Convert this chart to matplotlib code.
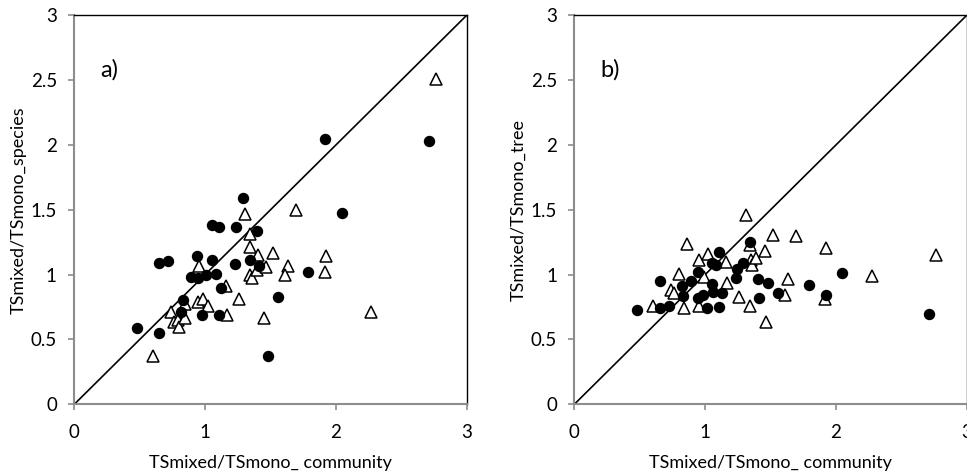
import matplotlib
matplotlib.use("Agg")
import matplotlib.pyplot as plt

plt.rcParams['font.family'] = ['Lato', 'DejaVu Sans']

# panel a) community ratio vs species ratio
a_circle_x = [0.48, 0.645, 0.65, 0.72, 0.815, 0.83, 0.89, 0.94, 0.945, 0.98, 1.01, 1.05, 1.05, 1.08,
              1.105, 1.11, 1.12, 1.23, 1.24, 1.29, 1.34, 1.40, 1.41, 1.48, 1.555, 1.79, 1.92, 2.044, 2.71]
a_circle_y = [0.59, 0.55, 1.09, 1.105, 0.71, 0.805, 0.985, 1.14, 0.975, 0.685, 0.997, 1.11, 1.38, 1.005,
              0.685, 1.37, 0.895, 1.08, 1.37, 1.59, 1.113, 1.338, 1.07, 0.375, 0.825, 1.017, 2.045, 1.473, 2.03]
a_tri_x = [0.60, 0.737, 0.765, 0.795, 0.80, 0.849, 0.846, 0.948, 0.986, 1.02, 0.951, 1.157, 1.259, 1.165,
           1.307, 1.343, 1.343, 1.343, 1.356, 1.394, 1.407, 1.463, 1.521, 1.45, 1.697, 1.632, 1.608,
           1.922, 1.914, 2.268, 2.765]
a_tri_y = [0.37, 0.709, 0.637, 0.65, 0.598, 0.771, 0.663, 0.789, 0.814, 0.758, 1.066, 0.912, 0.815, 0.689,
           1.47, 1.315, 1.21, 1.0, 0.975, 1.035, 1.151, 1.061, 1.164, 0.663, 1.498, 1.066, 0.997,
           1.143, 1.02, 0.712, 2.506]

# panel b) community ratio vs tree ratio
b_circle_x = [0.482, 0.655, 0.655, 0.726, 0.823, 0.828, 0.895, 0.943, 0.943, 0.986, 1.017, 1.05, 1.05,
              1.058, 1.081, 1.109, 1.109, 1.127, 1.234, 1.246, 1.292, 1.343, 1.402, 1.415, 1.478, 1.557,
              1.797, 1.922, 2.044, 2.715]
b_circle_y = [0.728, 0.951, 0.740, 0.761, 0.915, 0.835, 0.951, 1.018, 0.823, 0.843, 0.740, 0.928, 1.087,
              0.864, 1.075, 1.177, 0.748, 0.856, 0.977, 1.046, 1.093, 1.254, 0.967, 0.82, 0.935, 0.861,
              0.924, 0.840, 1.015, 0.697]
b_tri_x = [0.599, 0.742, 0.763, 0.803, 0.842, 0.859, 0.955, 0.955, 0.99, 1.022, 1.158, 1.171, 1.26,
           1.31, 1.343, 1.343, 1.349, 1.356, 1.392, 1.456, 1.463, 1.521, 1.634, 1.611, 1.697, 1.922,
           1.92, 2.274, 2.768]
b_tri_y = [0.755, 0.884, 0.86, 1.008, 0.74, 1.239, 1.11, 0.755, 0.985, 1.162, 1.098, 0.938, 0.83,
           1.462, 1.232, 0.759, 1.115, 1.075, 1.128, 1.184, 0.637, 1.305, 0.965, 0.843, 1.3, 1.202,
           0.81, 0.991, 1.155]

panels = [
    ("a)", "TSmixed/TSmono_species", a_circle_x, a_circle_y, a_tri_x, a_tri_y),
    ("b)", "TSmixed/TSmono_tree", b_circle_x, b_circle_y, b_tri_x, b_tri_y),
]

fig = plt.figure(figsize=(9.67, 4.74), dpi=100)
lefts = [0.0768, 0.5939]
grey = "#8c8c8c"

for left, (tag, ylab, cx, cy, tx, ty) in zip(lefts, panels):
    ax = fig.add_axes([left, 0.147, 0.4058, 0.8207])
    ax.plot([0, 3], [0, 3], color="k", linewidth=1.2, zorder=1)
    ax.plot(cx, cy, linestyle="none", marker="o", markersize=7.2, color="k", zorder=3)
    ax.plot(tx, ty, linestyle="none", marker="^", markersize=8, markerfacecolor="white",
            markeredgecolor="k", markeredgewidth=1.1, zorder=2)

    ax.set_xlim(0, 3)
    ax.set_ylim(0, 3)
    ax.set_xticks([0, 1, 2, 3])
    ax.set_xticklabels(["0", "1", "2", "3"])
    ax.set_yticks([0, 0.5, 1, 1.5, 2, 2.5, 3])
    ax.set_yticklabels(["0", "0.5", "1", "1.5", "2", "2.5", "3"])

    for side in ["top", "right"]:
        ax.spines[side].set_color("k")
        ax.spines[side].set_linewidth(1.0)
    for side in ["left", "bottom"]:
        ax.spines[side].set_color(grey)
        ax.spines[side].set_linewidth(1.5)
    ax.tick_params(axis="y", direction="out", length=4.5, width=1.2, color=grey, pad=8, labelsize=13.5)
    ax.tick_params(axis="x", direction="out", length=4.5, width=1.2, color=grey, pad=10, labelsize=13.5)

    ax.set_xlabel("TSmixed/TSmono_ community", fontsize=13, labelpad=10)
    ax.set_ylabel(ylab, fontsize=13, labelpad=3)
    ax.text(0.2, 2.58, tag, fontsize=17, va="center", ha="left")

fig.savefig("out.png", dpi=100)
